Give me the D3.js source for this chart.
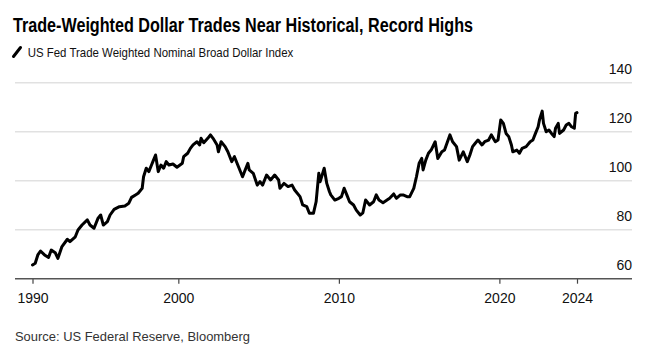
<!DOCTYPE html>
<html>
<head>
<meta charset="utf-8">
<script src="https://cdn.jsdelivr.net/npm/d3@7"></script>
<style>
  html, body { margin: 0; padding: 0; background: #fff; }
  svg { display: block; font-family: "Liberation Sans", Arial, Helvetica, sans-serif; }
</style>
</head>
<body>
<svg id="chart" width="655" height="356"></svg>
<script>
// ---- data ----
const titleText = "Trade-Weighted Dollar Trades Near Historical, Record Highs";
const seriesName = "US Fed Trade Weighted Nominal Broad Dollar Index";
const sourceText = "Source: US Federal Reserve, Bloomberg";

const dates = [
  "1990-12","1991-02","1991-04","1991-06","1991-09","1991-12","1992-02","1992-05","1992-07","1992-10",
  "1993-02","1993-04","1993-08","1993-10","1994-01","1994-05","1994-07","1994-10","1995-01","1995-03",
  "1995-05","1995-08","1995-10","1996-01","1996-05","1996-09","1996-12","1997-02","1997-05","1997-07",
  "1997-10","1997-11","1998-01","1998-03","1998-05","1998-06","1998-08","1998-10","1998-12","1999-02",
  "1999-04","1999-06","1999-09","1999-12","2000-04","2000-05","2000-08","2000-10","2000-12","2001-03",
  "2001-05","2001-06","2001-08","2001-11","2002-01","2002-03","2002-06","2002-07","2002-09","2002-12",
  "2003-02","2003-05","2003-07","2003-10","2004-01","2004-03","2004-05","2004-06","2004-09","2004-12",
  "2005-02","2005-04","2005-07","2005-10","2006-01","2006-04","2006-05","2006-08","2006-11","2007-02",
  "2007-04","2007-08","2007-10","2008-01","2008-03","2008-06","2008-08","2008-10","2008-11","2009-02",
  "2009-04","2009-06","2009-07","2009-10","2010-01","2010-03","2010-05","2010-07","2010-09","2010-12",
  "2011-02","2011-05","2011-07","2011-09","2011-12","2012-03","2012-05","2012-07","2012-10","2013-01",
  "2013-03","2013-06","2013-08","2013-11","2014-01","2014-04","2014-06","2014-09","2014-11","2015-01",
  "2015-03","2015-04","2015-06","2015-08","2015-10","2016-01","2016-03","2016-06","2016-08","2016-12",
  "2017-02","2017-05","2017-07","2017-10","2018-01","2018-03","2018-05","2018-07","2018-09","2018-12",
  "2019-02","2019-05","2019-07","2019-10","2019-12","2020-02","2020-04","2020-06","2020-08","2020-10",
  "2020-11","2021-02","2021-04","2021-06","2021-09","2021-12","2022-02","2022-04","2022-06","2022-07",
  "2022-09","2022-10","2022-12","2023-02","2023-04","2023-06","2023-07","2023-09","2023-10","2024-01",
  "2024-03","2024-05","2024-07","2024-09","2024-10","2024-11"
];
const values = [
  65.6,66.3,69.7,71.3,69.7,68.7,71.7,70.6,68.3,73.1,
  76.1,75.1,77.1,79.9,81.9,84.0,81.9,80.6,84.7,86.0,
  81.9,83.3,86.0,88.3,89.4,89.7,90.8,93.2,94.2,94.9,
  96.9,101.6,105.1,103.7,106.4,107.8,110.5,103.7,106.4,105.1,
  107.8,106.4,106.8,105.5,107.1,109.8,111.2,113.2,114.6,115.9,
  114.6,117.3,115.5,117.3,118.7,117.3,114.6,111.8,115.9,113.9,
  111.8,107.8,109.8,105.7,101.6,104.4,107.1,104.4,103.0,98.2,
  99.6,98.2,102.3,100.3,102.3,100.3,96.9,98.9,97.6,98.2,
  96.2,93.5,90.1,89.4,86.7,86.7,91.4,103.0,99.6,105.1,
  98.9,95.5,94.2,92.1,92.8,93.5,96.9,94.2,91.4,90.1,
  88.0,86.0,86.9,92.1,90.1,91.4,94.2,92.1,91.0,92.1,
  92.8,94.6,92.8,94.2,94.2,93.5,93.5,96.9,101.6,107.1,
  109.1,104.4,108.4,111.2,112.5,115.9,109.1,111.8,112.5,118.7,
  115.9,113.9,108.4,111.8,107.8,110.5,113.9,115.3,116.6,114.6,
  115.9,116.6,118.7,115.9,116.6,124.8,123.4,119.3,118.0,114.6,
  111.8,112.5,111.2,113.2,113.9,115.9,116.6,119.3,122.0,124.8,
  128.4,123.4,120.0,120.7,119.3,118.0,121.4,123.4,119.3,120.7,
  122.7,123.4,122.0,121.4,127.5,127.8
];
const yTicks = [60, 80, 100, 120, 140];
const xTickDates = ["1990-12", "2000-01", "2010-01", "2020-01", "2024-11"];
const xTickLabels = ["1990", "2000", "2010", "2020", "2024"];

// ---- drawing ----
const parse = d3.timeParse("%Y-%m");
const data = dates.map((d, i) => ({ date: parse(d), value: values[i] }));

const svg = d3.select("#chart");
const plotLeft = 15, plotRight = 632;

const x = d3.scaleTime()
  .domain([parse(dates[0]), parse(dates[dates.length - 1])])
  .range([32.5, 577]);
const y = d3.scaleLinear().domain([60, 140]).range([278.7, 82.7]);

// gridlines
svg.append("g").selectAll("line")
  .data(yTicks.filter(t => t !== 60))
  .join("line")
  .attr("x1", plotLeft).attr("x2", plotRight)
  .attr("y1", d => y(d)).attr("y2", d => y(d))
  .attr("stroke", "#e1e1e1").attr("stroke-width", 1.4);

// y labels (right, above gridlines)
svg.append("g").selectAll("text")
  .data(yTicks)
  .join("text")
  .attr("x", plotRight)
  .attr("y", d => y(d) - 9)
  .attr("text-anchor", "end")
  .attr("font-size", 14)
  .attr("fill", "#111")
  .text(d => d);

// x axis
const xAxis = d3.axisBottom(x)
  .tickValues(xTickDates.map(parse))
  .tickFormat((d, i) => xTickLabels[i])
  .tickSize(5)
  .tickSizeOuter(0);
const gx = svg.append("g")
  .attr("transform", `translate(0,${y(60)})`)
  .call(xAxis);
gx.select(".domain").remove();
gx.append("line")
  .attr("x1", plotLeft).attr("x2", plotRight)
  .attr("y1", 0).attr("y2", 0)
  .attr("stroke", "#555").attr("stroke-width", 1.4);
gx.selectAll(".tick line").attr("stroke", "#444").attr("stroke-width", 1.2);
gx.selectAll(".tick text")
  .attr("font-family", "Liberation Sans, Arial, sans-serif")
  .attr("font-size", 14)
  .attr("fill", "#111")
  .attr("dy", 0)
  .attr("y", 24.5);

// line
const line = d3.line().x(d => x(d.date)).y(d => y(d.value)).curve(d3.curveLinear);
svg.append("path")
  .datum(data)
  .attr("fill", "none")
  .attr("stroke", "#000")
  .attr("stroke-width", 3)
  .attr("stroke-linejoin", "round")
  .attr("stroke-linecap", "round")
  .attr("d", line);

// title
function fitText(sel, targetWidth) {
  const w = sel.node().getComputedTextLength();
  const fs = parseFloat(sel.attr("font-size"));
  sel.attr("font-size", (fs * targetWidth / w).toFixed(2));
}
const title = svg.append("text")
  .attr("x", 13).attr("y", 32.3)
  .attr("font-size", 20).attr("font-weight", "bold")
  .attr("fill", "#000")
  .text(titleText);
title.attr("textLength", 460).attr("lengthAdjust", "spacingAndGlyphs");

// legend
svg.append("line")
  .attr("x1", 13.5).attr("y1", 56.5)
  .attr("x2", 20.5).attr("y2", 47.5)
  .attr("stroke", "#000").attr("stroke-width", 3)
  .attr("stroke-linecap", "round");
svg.append("text")
  .attr("x", 27.7).attr("y", 56.7)
  .attr("font-size", 13.5)
  .attr("fill", "#111")
  .attr("textLength", 265.6).attr("lengthAdjust", "spacingAndGlyphs")
  .text(seriesName);

// source
svg.append("text")
  .attr("x", 15).attr("y", 340.7)
  .attr("font-size", 13)
  .attr("fill", "#333")
  .attr("textLength", 235).attr("lengthAdjust", "spacingAndGlyphs")
  .text(sourceText);
</script>
</body>
</html>
